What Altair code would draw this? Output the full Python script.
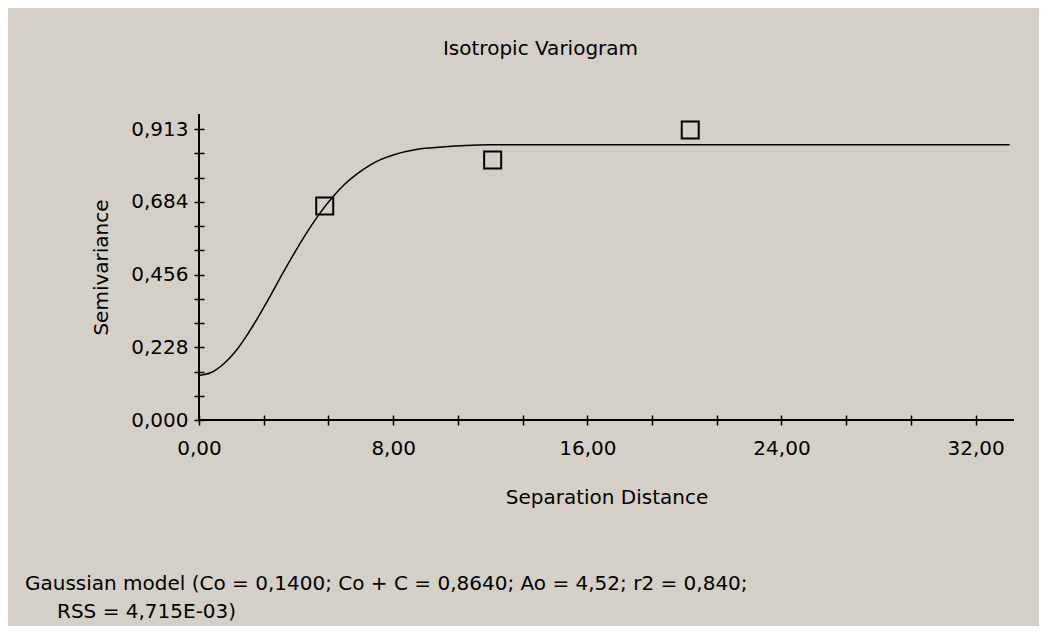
import json
import altair as alt
import pandas as pd

# ---- data ----
curve_h = [0.0, 0.5, 1.0, 1.5, 2.0, 2.5, 3.0, 3.5, 4.0, 4.5, 5.0, 5.5, 6.0, 6.5, 7.0, 7.5,
           8.0, 9.0, 10.0, 11.0, 12.0, 33.4]
curve_g = [0.140, 0.149, 0.175, 0.215, 0.269, 0.331, 0.398, 0.467, 0.533, 0.595, 0.651, 0.699,
           0.740, 0.772, 0.798, 0.818, 0.832, 0.850, 0.857, 0.862, 0.864, 0.864]
pts_h = [5.18, 12.1, 20.24]
pts_g = [0.672, 0.816, 0.910]

y_tick_labels = ["0,000", "0,228", "0,456", "0,684", "0,913"]
x_tick_labels = ["0,00", "8,00", "16,00", "24,00", "32,00"]
y_top_label = 0.913
x_major_step = 8.0

title_text = "Isotropic Variogram"
x_title = "Separation Distance"
y_title = "Semivariance"
note_line1 = "Gaussian model (Co = 0,1400; Co + C = 0,8640; Ao = 4,52; r2 = 0,840;"
note_line2 = "RSS = 4,715E-03)"

curve_df = pd.DataFrame({"h": curve_h, "g": curve_g})
pts_df = pd.DataFrame({"h": pts_h, "g": pts_g})

# ---- styling ----
BG = "#d4d0c8"
FONT = "DejaVu Sans"
FS = 20
W, H = 815, 306
XMAX, YMAX = 33.58, 0.9605

y_minor = y_top_label / 12
x_minor = x_major_step / 3
y_vals = [i * y_minor for i in range(13)]
x_vals = [i * x_minor for i in range(13)]

y_label_expr = (f"round(datum.value/{y_minor}) % 3 == 0 ? "
                f"{json.dumps(y_tick_labels)}[round(datum.value/{y_minor})/3] : ''")
x_label_expr = (f"round(datum.value/{x_minor}) % 3 == 0 ? "
                f"{json.dumps(x_tick_labels)}[round(datum.value/{x_minor})/3] : ''")

x_axis = alt.Axis(values=x_vals, labelExpr=x_label_expr, domain=False, offset=-5,
                  tickSize=10, tickWidth=1.5, tickColor="black", labelPadding=13,
                  labelFont=FONT, labelFontSize=FS, labelColor="black", grid=False,
                  labelFlush=False, labelOverlap=False,
                  title=x_title, titleFont=FONT, titleFontSize=FS, titleFontWeight="normal",
                  titleColor="black", titleX=W / 2, titleY=88, titleAnchor="middle",
                  titleBaseline="alphabetic", titleAlign="center")
y_axis = alt.Axis(values=y_vals, labelExpr=y_label_expr, domain=False, offset=-5,
                  tickSize=10, tickWidth=1.5, tickColor="black", labelPadding=6,
                  labelFont=FONT, labelFontSize=FS, labelColor="black", grid=False,
                  labelFlush=False, labelOverlap=False,
                  title=y_title, titleFont=FONT, titleFontSize=FS, titleFontWeight="normal",
                  titleColor="black", titleAngle=-90, titleX=-103, titleY=H / 2,
                  titleAlign="center", titleBaseline="middle")

xs = alt.Scale(domain=[0, XMAX], nice=False, zero=False)
ys = alt.Scale(domain=[0, YMAX], nice=False, zero=False)

line = alt.Chart(curve_df).mark_line(color="black", strokeWidth=1.5, interpolate="monotone").encode(
    x=alt.X("h:Q", scale=xs, axis=x_axis),
    y=alt.Y("g:Q", scale=ys, axis=y_axis),
)
points = alt.Chart(pts_df).mark_point(shape="square", filled=False, size=289, color="black",
                                      strokeWidth=2, opacity=1).encode(
    x=alt.X("h:Q", scale=xs, axis=x_axis),
    y=alt.Y("g:Q", scale=ys, axis=y_axis),
)
x_domain_line = alt.Chart(pd.DataFrame({"v": [0]})).mark_rule(color="black", strokeWidth=2).encode(
    y=alt.Y("v:Q", scale=ys, axis=y_axis))
y_domain_line = alt.Chart(pd.DataFrame({"v": [0]})).mark_rule(color="black", strokeWidth=2).encode(
    x=alt.X("v:Q", scale=xs, axis=x_axis))

note1 = alt.Chart(pd.DataFrame({"t": [note_line1]})).mark_text(
    align="left", baseline="alphabetic", font=FONT, fontSize=FS, color="black").encode(
    text="t:N", x=alt.value(-174), y=alt.value(476))
note2 = alt.Chart(pd.DataFrame({"t": [note_line2]})).mark_text(
    align="left", baseline="alphabetic", font=FONT, fontSize=FS, color="black").encode(
    text="t:N", x=alt.value(-142), y=alt.value(504))

chart = alt.layer(line, points, x_domain_line, y_domain_line, note1, note2).properties(
    width=W, height=H,
    title=alt.TitleParams(title_text, font=FONT, fontSize=FS, fontWeight="normal", color="black",
                          anchor="middle", frame="group", dx=-66, offset=38,
                          baseline="alphabetic"),
    autosize=alt.AutoSizeParams(type="none"),
    padding={"left": 191, "top": 106, "right": 25, "bottom": 206},
    background=BG,
).configure_view(stroke=None)

chart.save("out.html", embed_options={"renderer": "svg", "actions": False})
